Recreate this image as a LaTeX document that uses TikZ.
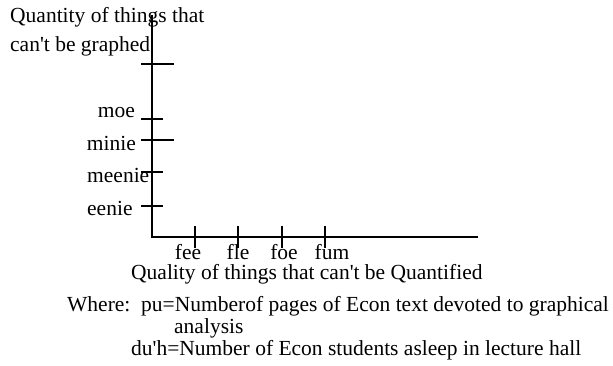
\documentclass[tikz,border=0pt]{standalone}
\usepackage{fontspec}
\setmainfont{Liberation Serif}
\newcommand{\gfont}{\fontsize{21.5}{22}\selectfont}
\newcommand{\ap}{\textquotesingle}

\begin{document}
\begin{tikzpicture}[x=1pt, y=-1pt,
  axis/.style={line width=1.8pt, draw=black, line cap=rect},
  tickmark/.style={line width=1.6pt, draw=black},
  txt/.style={font=\gfont, inner sep=0pt, anchor=base west},
  ylab/.style={font=\gfont, inner sep=0pt, anchor=base east},
  xlab/.style={font=\gfont, inner sep=0pt, anchor=base},
]
\useasboundingbox (0,0) rectangle (613,366);

%% Axes
\coordinate (O)    at (152, 237);
\coordinate (ytop) at (152, 16);
\coordinate (xend) at (477, 237);
\draw[axis] (ytop) -- (O) -- (xend);

%% Ticks on the vertical axis
\coordinate (ty0) at (152, 64);
\coordinate (ty1) at (152, 119);
\coordinate (ty2) at (152, 140);
\coordinate (ty3) at (152, 172);
\coordinate (ty4) at (152, 206);
\draw[tickmark] ([xshift=-11pt]ty0) -- ([xshift=22pt]ty0);
\draw[tickmark] ([xshift=-11pt]ty1) -- ([xshift=11pt]ty1);
\draw[tickmark] ([xshift=-11pt]ty2) -- ([xshift=22pt]ty2);
\draw[tickmark] ([xshift=-11pt]ty3) -- ([xshift=11pt]ty3);
\draw[tickmark] ([xshift=-11pt]ty4) -- ([xshift=11pt]ty4);

%% Ticks on the horizontal axis
\foreach \n/\x in {tx1/195, tx2/238, tx3/282, tx4/325}{
  \coordinate (\n) at (\x, 237);
  \draw[tickmark] ([yshift=11pt]\n) -- ([yshift=-11pt]\n);
}

%% Axis titles
\node[txt] (ytitleA) at (10, 23)  {Quantity of things that};
\node[txt] (ytitleB) at (10, 52)  {can\ap t be graphed};
\node[txt] (xtitle)  at (131, 279) {Quality of things that can\ap t be Quantified};

%% Vertical tick labels
\node[ylab] (moe)    at (135, 118) {moe};
\node[ylab] (minie)  at (136, 151) {minie};
\node[txt]  (meenie) at (87, 183)  {meenie};
\node[txt]  (eenie)  at (87, 215)  {eenie};

%% Horizontal tick labels
\node[xlab] (fee) at (188, 259) {fee};
\node[xlab] (fle) at (238, 259) {fle};
\node[xlab] (foe) at (284, 259) {foe};
\node[xlab] (fum) at (332, 259) {fum};

%% Legend
\node[txt] (where)    at (67, 311)  {Where:\hspace{0.5em}pu=Numberof pages of Econ text devoted to graphical};
\node[txt] (analysis) at (174, 333) {analysis};
\node[txt] (duh)      at (131, 355) {du\ap h=Number of Econ students asleep in lecture hall};

\end{tikzpicture}
\end{document}
